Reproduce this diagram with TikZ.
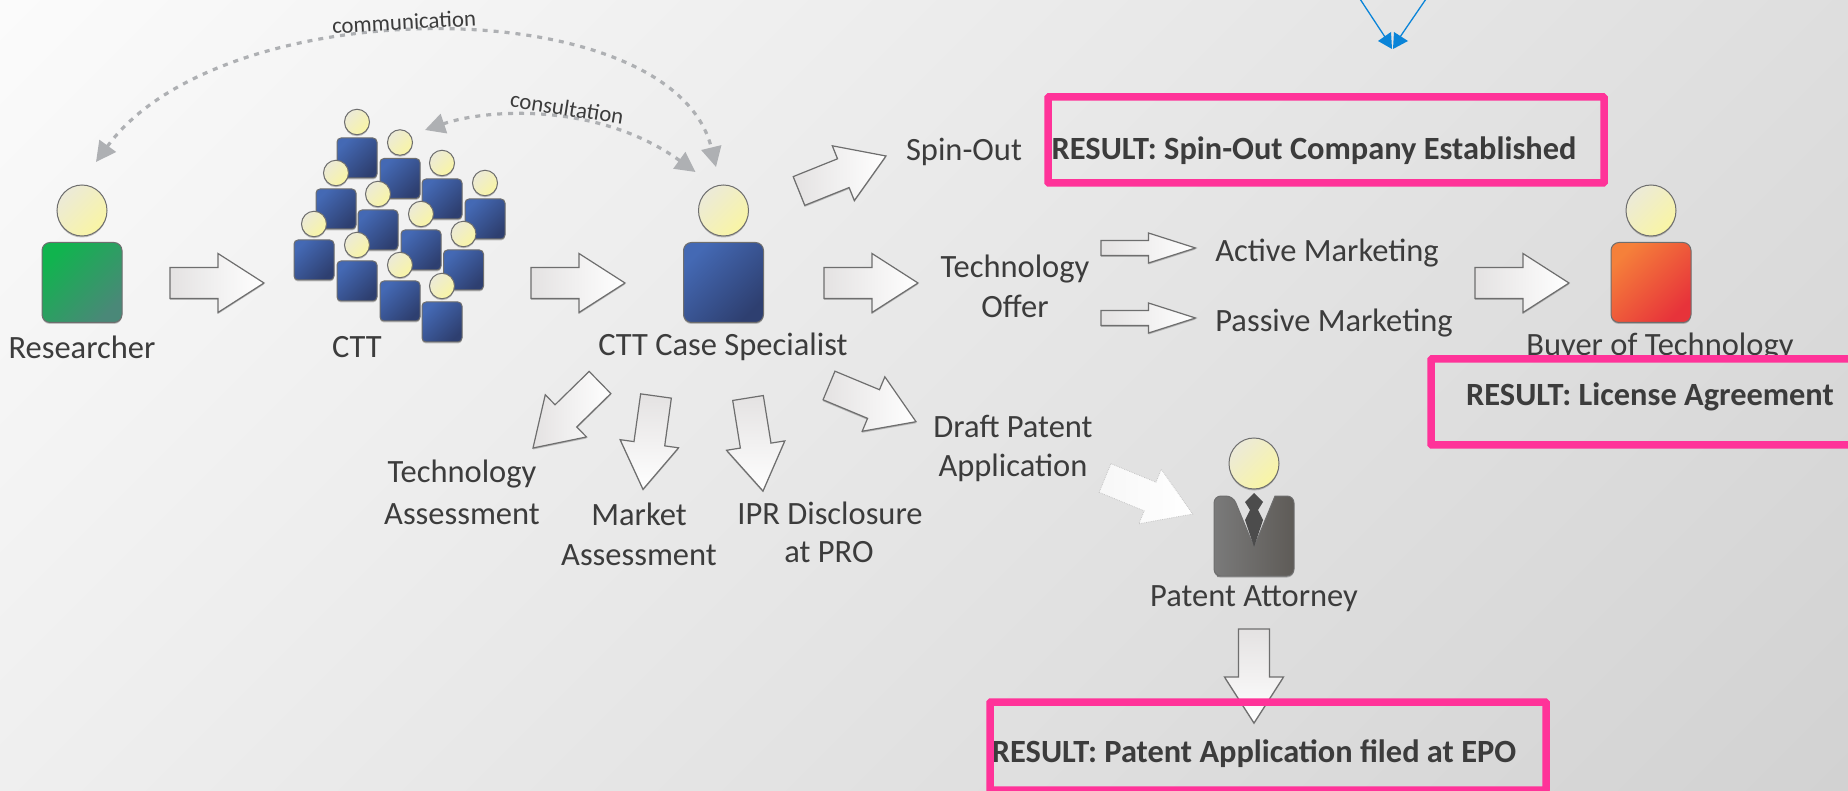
\documentclass[tikz,border=0pt]{standalone}
\usepackage{fontspec}
\setmainfont{Carlito}
\usetikzlibrary{calc,shadows,arrows.meta}
\definecolor{inkc}{HTML}{3C3C3C}
\definecolor{pinkc}{HTML}{FF3399}
\definecolor{dashc}{HTML}{AEB0B3}
\definecolor{bluec}{HTML}{0A84D8}
\definecolor{edgec}{HTML}{6E6E6E}
\definecolor{heada}{HTML}{ECEAD8}
\definecolor{headb}{HTML}{F9F5A4}
\definecolor{arrowa}{HTML}{E4E2E2}
\definecolor{bga}{HTML}{FBFBFB}
\definecolor{bgb}{HTML}{D2D2D2}
\tikzset{
  every node/.style={inner sep=0pt,outer sep=0pt},
  lbl/.style={text=inkc,font=\fontsize{32.5}{38}\selectfont,align=center,anchor=center},
  boldlbl/.style={lbl,font=\fontsize{32.4}{38}\selectfont\bfseries},
  smalllbl/.style={text=inkc,font=\fontsize{22.8}{27}\selectfont},
  resultbox/.style={draw=pinkc,line width=7.5pt,rounded corners=1pt},
  softshadow/.style={drop shadow={shadow xshift=0pt,shadow yshift=-1.5pt,opacity=.22,fill=black}},
  comm/.style={draw=dashc,line width=3.2pt,dash pattern=on 5pt off 6pt,
     {Triangle[length=20pt,width=20pt]}-{Triangle[length=20pt,width=20pt]}},
  arrowbig/.style={draw=edgec,line width=1.2pt,left color=arrowa,right color=white,softshadow},
  arrowdown/.style={draw=edgec,line width=1.2pt,top color=arrowa,bottom color=white,softshadow},
  arrowfaint/.style={draw=gray!45,line width=.8pt,densely dotted,left color=gray!6,right color=white},
}
% block arrow between two named coordinates: [style], tail, tip, head width, shaft width, head length
\newcommand{\blockarrow}[6][arrowbig]{%
  \coordinate (ba) at ($(#3)!#6!(#2)$);
  \path[#1] ($(#2)!#5/2!90:(#3)$) -- ($(ba)!#5/2!-90:(#2)$) -- ($(ba)!#4/2!-90:(#2)$)
    -- (#3) -- ($(ba)!#4/2!90:(#2)$) -- ($(ba)!#5/2!90:(#2)$) -- ($(#2)!#5/2!-90:(#3)$) -- cycle;
}
\newcommand{\bigarrow}[3][arrowbig]{\blockarrow[#1]{#2}{#3}{59pt}{31pt}{46pt}}
\newcommand{\smallarrow}[2]{\blockarrow{#1}{#2}{30pt}{15pt}{47pt}}
% person: centre x, head centre y, scale, body colours
\newcommand{\person}[5]{%
  \begin{scope}[shift={(#1,#2)},x=#3pt,y=-#3pt]
    \shade[softshadow,draw=edgec,line width=1pt,left color=#4,right color=#5,shading angle=45,rounded corners=#3*8pt]
      (-40,32) rectangle (40,112);
    \shade[softshadow,draw=edgec,line width=1pt,left color=heada,right color=headb,shading angle=45]
      (0,0) ellipse [x radius=25,y radius=25.5];
  \end{scope}
}
\begin{document}
\begin{tikzpicture}[x=1pt,y=-1pt]
\useasboundingbox (0,0) rectangle (1848,791);
\begin{scope}
\clip (0,0) rectangle (1848,791);
\shade[left color=bga,right color=bgb,shading angle=45] (-9,-537.5) rectangle (1857,1328.5);

% people
\definecolor{bluea}{HTML}{4469B4}\definecolor{blueb}{HTML}{2E3F70}
\definecolor{greena}{HTML}{10B44E}\definecolor{greenb}{HTML}{4A8878}
\definecolor{oranga}{HTML}{F5803A}\definecolor{orangb}{HTML}{E7333A}
\person{82}{210.5}{1}{greena}{greenb}
\person{723.5}{210.5}{1}{bluea}{blueb}
\person{1651}{210.5}{1}{oranga}{orangb}
\foreach \x/\y in {357/122,400/142.5,442/163,485/183,336/173,378/194,421/214,463.5/234,314/224,357/245,400/265,442/286}
  {\person{\x}{\y}{.5}{bluea}{blueb}}

% attorney
\definecolor{suita}{HTML}{7A7A7A}\definecolor{suitb}{HTML}{5E5B57}
\shade[softshadow,draw=edgec,line width=1pt,left color=suita,right color=suitb]
  (1224,576) [rounded corners=7pt] -- (1214,576) -- (1214,496) -- (1233,496) [sharp corners] -- (1254,547) -- (1275,496) [rounded corners=7pt] -- (1294,496) -- (1294,576) -- cycle;
\fill[black!70] (1254,493) -- (1263,502) -- (1258,510) -- (1263,520) -- (1254,547) -- (1245,520) -- (1250,510) -- (1245,502) -- cycle;
\shade[softshadow,draw=edgec,line width=1pt,left color=heada,right color=headb,shading angle=45]
  (1254,463.5) ellipse [x radius=25,y radius=25.5];

% block arrows
\coordinate (a1t) at (170,283);   \coordinate (a1h) at (264,283);
\coordinate (a2t) at (531,283);   \coordinate (a2h) at (625,283);
\coordinate (a3t) at (824,283);   \coordinate (a3h) at (918,283);
\coordinate (a4t) at (1475,283);  \coordinate (a4h) at (1569,283);
\coordinate (s1t) at (799,191);   \coordinate (s1h) at (886,156);
\coordinate (d1t) at (829,385.5); \coordinate (d1h) at (916,421.7);
\coordinate (t1t) at (600,382.5); \coordinate (t1h) at (533,448);
\coordinate (m1t) at (656,396);   \coordinate (m1h) at (643,489.3);
\coordinate (i1t) at (748,398);   \coordinate (i1h) at (763,491);
\coordinate (p1t) at (1105,478);  \coordinate (p1h) at (1192.6,514);
\coordinate (r1t) at (1254,629);  \coordinate (r1h) at (1254,723);
\coordinate (c1t) at (1101,248);  \coordinate (c1h) at (1195.5,248);
\coordinate (c2t) at (1101,318);  \coordinate (c2h) at (1195.5,318);
\bigarrow{a1t}{a1h}
\bigarrow{a2t}{a2h}
\bigarrow{a3t}{a3h}
\bigarrow{a4t}{a4h}
\bigarrow{s1t}{s1h}
\bigarrow{d1t}{d1h}
\bigarrow{t1t}{t1h}
\bigarrow[arrowdown]{m1t}{m1h}
\bigarrow[arrowdown]{i1t}{i1h}
\bigarrow[arrowfaint]{p1t}{p1h}
\bigarrow[arrowdown]{r1t}{r1h}
\smallarrow{c1t}{c1h}
\smallarrow{c2t}{c2h}

% dashed curves
\coordinate (cmL) at (96,162);  \coordinate (cmR) at (716,167);
\coordinate (csL) at (425,130); \coordinate (csR) at (695.5,172);
\draw[comm] (cmL) .. controls (222,-11) and (673,-11) .. (cmR);
\draw[comm] (csL) .. controls (490,108) and (600,103) .. (csR);
\node[smalllbl,rotate=3] (lcomm) at (404,22) {communication};
\node[smalllbl,rotate=-9] (lcons) at (567,108) {consultation};

% labels
\node[lbl] (lres) at (82,347) {Researcher};
\node[lbl] (lctt) at (357,347) {CTT};
\node[lbl] (lspec) at (723,347) {CTT Case Specialist};
\node[lbl] (lbuy) at (1660,347) {Buyer of Technology};
\node[lbl] (lspin) at (964,152) {Spin-Out};
\node[lbl] (ltech) at (1015,269) {Technology};
\node[lbl] (loffer) at (1015,306) {Offer};
\node[lbl] (lact) at (1327,253) {Active Marketing};
\node[lbl] (lpas) at (1334,323) {Passive Marketing};
\node[lbl] (ldraft) at (1013,426) {Draft Patent};
\node[lbl] (lappl) at (1013,468) {Application};
\node[lbl] (lta1) at (462,474) {Technology};
\node[lbl] (lta2) at (462,514) {Assessment};
\node[lbl] (lma1) at (639,514) {Market};
\node[lbl] (lma2) at (639,555) {Assessment};
\node[lbl] (lip1) at (830,513) {IPR Disclosure};
\node[lbl] (lip2) at (829,552) {at PRO};
\node[lbl] (latt) at (1254,599) {Patent Attorney};

% results
\node[boldlbl] (r1) at (1314,151) {RESULT: Spin-Out Company Established};
\node[boldlbl] (r2) at (1650,397) {RESULT: License Agreement};
\node[boldlbl] (r3) at (1254,754) {RESULT: Patent Application filed at EPO};
\draw[resultbox] (1048,97) rectangle (1604,183);
\draw[resultbox] (1431,359) rectangle (1870,445);
\draw[resultbox] (990,702) rectangle (1546,790);

% blue mark
\coordinate (bl) at (1360,-1); \coordinate (br) at (1426,-1);
\coordinate (bla) at (1385,37); \coordinate (bra) at (1400,37);
\draw[bluec,line width=1.3pt] (bl) -- (bla);
\draw[bluec,line width=1.3pt] (br) -- (bra);
\fill[bluec] (1378,41) -- (1391,32) -- (1392,49) -- cycle;
\fill[bluec] (1408,41) -- (1394,32) -- (1393,49) -- cycle;
\end{scope}
\end{tikzpicture}
\end{document}
